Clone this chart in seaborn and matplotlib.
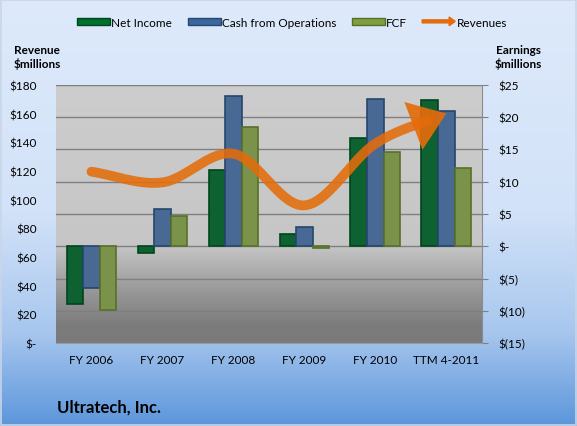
import matplotlib
matplotlib.use("Agg")

import numpy as np
import pandas as pd
import matplotlib.pyplot as plt
import seaborn as sns
from matplotlib.colors import LinearSegmentedColormap
from matplotlib.patches import FancyArrow, Rectangle
from matplotlib.legend_handler import HandlerPatch
from matplotlib.ticker import FuncFormatter

# ===============================
# 数据
# ===============================
years = ['FY 2006', 'FY 2007', 'FY 2008', 'FY 2009', 'FY 2010', 'TTM 4-2011']
net_income = [-9.0, -1.0, 11.8, 1.9, 16.8, 22.7]
cash_ops = [-6.5, 5.8, 23.2, 3.0, 22.8, 20.9]
fcf = [-9.8, 4.75, 18.5, -0.3, 14.6, 12.1]
revenues = [119.5, 112.0, 132.0, 96.0, 139.0, 160.0]

series_names = ['Net Income', 'Cash from Operations', 'FCF']
bar_colors = ['#00702F', '#3B67A0', '#7F9E3F']
edge_colors = ['#00451C', '#27466E', '#56702A']
line_color = '#E46C0A'

df = pd.DataFrame({
    'year': years * 3,
    'series': np.repeat(series_names, len(years)),
    'value': net_income + cash_ops + fcf,
})

plt.rcParams['font.family'] = ['Lato', 'DejaVu Sans']

fig = plt.figure(figsize=(5.77, 4.27), dpi=100)

# ===============================
# 背景渐变
# ===============================
bg = fig.add_axes([0, 0, 1, 1], zorder=-10)
bg_cmap = LinearSegmentedColormap.from_list(
    'bg', [(0, '#DEEAFB'), (0.5, '#D2E2F8'), (0.78, '#A8C7EE'), (1, '#5C96DB')])
bg.imshow(np.linspace(0, 1, 256).reshape(-1, 1), aspect='auto', cmap=bg_cmap,
          extent=[0, 1, 0, 1])
bg.add_patch(Rectangle((0.002, 0.003), 0.996, 0.994, fill=False,
                       edgecolor='#C8D6E8', lw=1.2))
bg.set_axis_off()

ax = fig.add_axes([0.097, 0.194, 0.738, 0.605])

# 绘图区渐变
pa_cmap = LinearSegmentedColormap.from_list(
    'pa', [(0, '#CDCDCD'), (0.62, '#C6C6C6'), (0.8, '#989898'), (0.93, '#7C7C7C'), (1, '#7A7A7A')])
ax.imshow(np.linspace(0, 1, 256).reshape(-1, 1), aspect='auto', cmap=pa_cmap,
          extent=[0, 1, 0, 1], transform=ax.transAxes, zorder=0)

# ===============================
# 柱状图 (Earnings, 右轴)
# ===============================
sns.barplot(data=df, x='year', y='value', hue='series', order=years,
            hue_order=series_names, palette=bar_colors, width=0.7,
            ax=ax, legend=False, zorder=3, linewidth=1.2)
for container, ec in zip(ax.containers, edge_colors):
    for bar in container:
        bar.set_edgecolor(ec)

ax.set_ylim(-15, 25)
ax.set_yticks(np.arange(-15, 26, 5))
ax.set_xlim(-0.5, 5.5)


def earn_fmt(v, pos):
    if v == 0:
        return '$-'
    if v < 0:
        return f'$({abs(v):.0f})'
    return f'${v:.0f}'


ax.yaxis.set_major_formatter(FuncFormatter(earn_fmt))
ax.grid(axis='y', color='#7F7F7F', lw=1.0)
for gl in ax.get_ygridlines():
    gl.set_zorder(1)
ax.set_xlabel('')
ax.set_ylabel('')
ax.tick_params(axis='x', length=0, labelsize=8.5, pad=8)
for s in ax.spines.values():
    s.set_visible(False)
ax.spines['right'].set_visible(True)
ax.spines['right'].set_color('#8C8C8C')
ax.spines['bottom'].set_visible(True)
ax.spines['bottom'].set_color('#9A9A9A')

# ===============================
# 收入曲线 (Revenue, 左轴)
# ===============================
ax2 = ax.twinx()
ax2.set_ylim(0, 180)
ax2.set_yticks(np.arange(0, 181, 20))
ax2.yaxis.set_major_formatter(FuncFormatter(lambda v, p: '$-' if v == 0 else f'${v:.0f}'))
for s in ax2.spines.values():
    s.set_visible(False)

# 左右轴互换
ax.yaxis.tick_right()
ax2.yaxis.tick_left()
ax.tick_params(axis='y', which='both', left=False, labelleft=False, right=True,
               labelright=True, length=4, color='#808080', labelsize=8.5, pad=8)
ax2.tick_params(axis='y', which='both', right=False, labelright=False, left=True,
                labelleft=True, length=0, labelsize=8.5, pad=14)

# Catmull-Rom 平滑 (仿 Excel 平滑线)
xs = np.arange(len(years), dtype=float)
ys = np.array(revenues, dtype=float)
px = np.concatenate([[2 * xs[0] - xs[1]], xs, [2 * xs[-1] - xs[-2]]])
py = np.concatenate([[2 * ys[0] - ys[1]], ys, [2 * ys[-1] - ys[-2]]])
sx, sy = [], []
t = np.linspace(0, 1, 30)
for i in range(1, len(px) - 2):
    for arr, out in ((px, sx), (py, sy)):
        p0, p1, p2, p3 = arr[i - 1], arr[i], arr[i + 1], arr[i + 2]
        out.extend(0.5 * ((2 * p1) + (-p0 + p2) * t
                          + (2 * p0 - 5 * p1 + 4 * p2 - p3) * t ** 2
                          + (-p0 + 3 * p1 - 3 * p2 + p3) * t ** 3))
sx, sy = np.array(sx), np.array(sy)
smooth = pd.DataFrame({'x': sx[:-8], 'y': sy[:-8]})
sns.lineplot(data=smooth, x='x', y='y', ax=ax2, color=line_color, lw=7,
             alpha=0.88, solid_capstyle='round', sort=False)
ax2.annotate('', xy=(sx[-1], sy[-1]), xytext=(sx[-10], sy[-10]),
             arrowprops=dict(arrowstyle='-|>,head_length=1.1,head_width=0.8',
                             color=line_color, lw=0, mutation_scale=23, alpha=0.92,
                             shrinkA=0, shrinkB=0))
ax2.set_xlabel('')
ax2.set_ylabel('')
ax2.set_xlim(-0.5, 5.5)

# ===============================
# 图例
# ===============================
def make_arrow(legend, orig_handle, xdescent, ydescent, width, height, fontsize):
    return FancyArrow(-xdescent, height / 2 - ydescent, width, 0,
                      width=height * 0.45, head_width=height * 1.3,
                      head_length=height * 0.9, length_includes_head=True,
                      color=line_color)


handles = [Rectangle((0, 0), 1, 1, facecolor=c, edgecolor=e, lw=1)
           for c, e in zip(bar_colors, edge_colors)]
arrow_handle = FancyArrow(0, 0, 1, 0, color=line_color)
handles.append(arrow_handle)
fig.legend(handles, series_names + ['Revenues'], loc='center',
           bbox_to_anchor=(0.506, 0.946), ncol=4, frameon=False, fontsize=8.5,
           handlelength=2.8, handleheight=0.5, handletextpad=0.1, columnspacing=1.3,
           handler_map={FancyArrow: HandlerPatch(patch_func=make_arrow)})

# ===============================
# 文字
# ===============================
fig.text(0.024, 0.865, 'Revenue\n$millions', fontsize=8.5, fontweight='bold',
         va='center', ha='left', linespacing=1.25)
fig.text(0.898, 0.865, 'Earnings\n$millions', fontsize=8.5, fontweight='bold',
         va='center', ha='center', linespacing=1.25)
fig.text(0.099, 0.045, 'Ultratech, Inc.', fontsize=12, fontweight='bold',
         va='center', ha='left')

plt.savefig('out.png', dpi=100)
plt.close()
